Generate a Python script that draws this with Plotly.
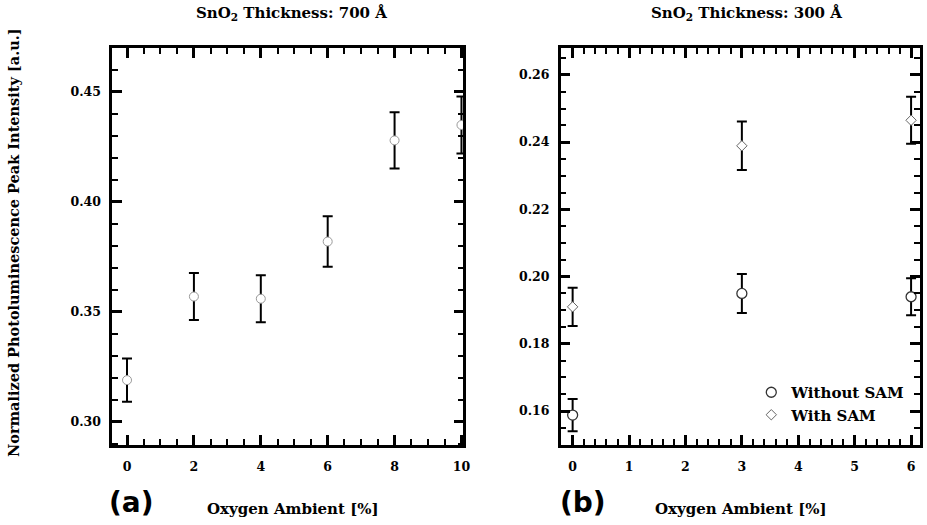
import plotly.graph_objects as go

# ---- data (a): SnO2 700 Å ----
oxy_a = [0, 2, 4, 6, 8, 10]
pl_a = [0.319, 0.357, 0.356, 0.382, 0.428, 0.435]
err_a = [0.0098, 0.0107, 0.0107, 0.0115, 0.0128, 0.013]

# ---- data (b): SnO2 300 Å ----
oxy_b = [0, 3, 6]
pl_b_without = [0.1588, 0.195, 0.194]
err_b_without = [0.0048, 0.0058, 0.0055]
pl_b_with = [0.191, 0.2389, 0.2465]
err_b_with = [0.0057, 0.0072, 0.007]

x_ticks_a = [0, 2, 4, 6, 8, 10]
y_ticks_a = [0.30, 0.35, 0.40, 0.45]
x_ticks_b = [0, 1, 2, 3, 4, 5, 6]
y_ticks_b = [0.16, 0.18, 0.20, 0.22, 0.24, 0.26]

SERIF = "DejaVu Serif"
W, H = 927, 525

fig = go.Figure()

eb = dict(type="data", thickness=2, width=5, color="black")

fig.add_trace(go.Scatter(
    x=oxy_a, y=pl_a, mode="markers", showlegend=False,
    error_y=dict(array=err_a, **eb),
    marker=dict(symbol="circle", size=9, color="white",
                line=dict(color="#999", width=1)),
    xaxis="x", yaxis="y"))

fig.add_trace(go.Scatter(
    x=oxy_b, y=pl_b_without, mode="markers", name="Without SAM",
    error_y=dict(array=err_b_without, **eb),
    marker=dict(symbol="circle", size=10, color="white",
                line=dict(color="#333", width=1.3)),
    xaxis="x2", yaxis="y2"))

fig.add_trace(go.Scatter(
    x=oxy_b, y=pl_b_with, mode="markers", name="With SAM",
    error_y=dict(array=err_b_with, **eb),
    marker=dict(symbol="diamond", size=8, color="white",
                line=dict(color="#666", width=1)),
    xaxis="x2", yaxis="y2"))

tickfont = dict(family=SERIF, size=12.5, color="black", weight="bold")
ax_common = dict(showline=True, linewidth=2.5, linecolor="black", mirror="allticks",
                 ticks="inside", ticklen=10, tickwidth=2.5, tickcolor="black",
                 showgrid=False, zeroline=False, tickfont=tickfont)

ydom = [1 - 445 / H, 1 - 48 / H]
minor_common = dict(ticks="inside", ticklen=6, tickwidth=2, tickcolor="black",
                    showgrid=False)

fig.update_layout(
    width=W, height=H,
    margin=dict(l=0, r=0, t=0, b=0),
    paper_bgcolor="white", plot_bgcolor="white",
    xaxis=dict(domain=[113 / W, 467 / W], range=[-0.445, 10.06],
               tickvals=x_ticks_a, anchor="y", ticklabelstandoff=8,
               minor=dict(dtick=0.5, **minor_common), **ax_common),
    yaxis=dict(domain=ydom, range=[0.2895, 0.47], tickvals=y_ticks_a,
               tickformat=".2f", anchor="x", ticklabelstandoff=6,
               minor=dict(dtick=0.01, **minor_common), **ax_common),
    xaxis2=dict(domain=[565 / W, 1.0], range=[-0.211, 6.158],
                tickvals=x_ticks_b, anchor="y2", ticklabelstandoff=8,
                minor=dict(dtick=0.2, **minor_common), **ax_common),
    yaxis2=dict(domain=ydom, range=[0.1499, 0.268], tickvals=y_ticks_b,
                tickformat=".2f", anchor="x2", ticklabelstandoff=6,
                minor=dict(dtick=0.005, **minor_common), **ax_common),
    legend=dict(x=757 / W, y=1 - 376 / H, xanchor="left", yanchor="top",
                bgcolor="rgba(0,0,0,0)", borderwidth=0,
                font=dict(family=SERIF, size=15, color="black", weight="bold"),
                tracegroupgap=0, itemwidth=30),
)

title_font = dict(family=SERIF, size=15, color="black", weight="bold")
ann = [
    dict(text="SnO<sub>2</sub> Thickness: 700 Å", x=294 / W, y=1 - 13 / H),
    dict(text="SnO<sub>2</sub> Thickness: 300 Å", x=752 / W, y=1 - 13 / H),
    dict(text="Oxygen Ambient [%]", x=295 / W, y=1 - 509 / H),
    dict(text="Oxygen Ambient [%]", x=747 / W, y=1 - 509 / H),
]
for a in ann:
    fig.add_annotation(xref="paper", yref="paper", xanchor="center", yanchor="middle",
                       showarrow=False, font=title_font, **a)

fig.add_annotation(text="Normalized Photoluminescence Peak Intensity [a.u.]",
                   xref="paper", yref="paper", x=13 / W, y=1 - 242 / H,
                   textangle=-90, showarrow=False, xanchor="center", yanchor="middle",
                   font=dict(family=SERIF, size=14.5, color="black", weight="bold"))

lab_font = dict(family="DejaVu Sans", size=28, color="black", weight="bold")
fig.add_annotation(text="(a)", xref="paper", yref="paper", x=133 / W, y=1 - 502 / H,
                   showarrow=False, xanchor="center", yanchor="middle", font=lab_font)
fig.add_annotation(text="(b)", xref="paper", yref="paper", x=587 / W, y=1 - 502 / H,
                   showarrow=False, xanchor="center", yanchor="middle", font=lab_font)

fig.write_html("out.html")
